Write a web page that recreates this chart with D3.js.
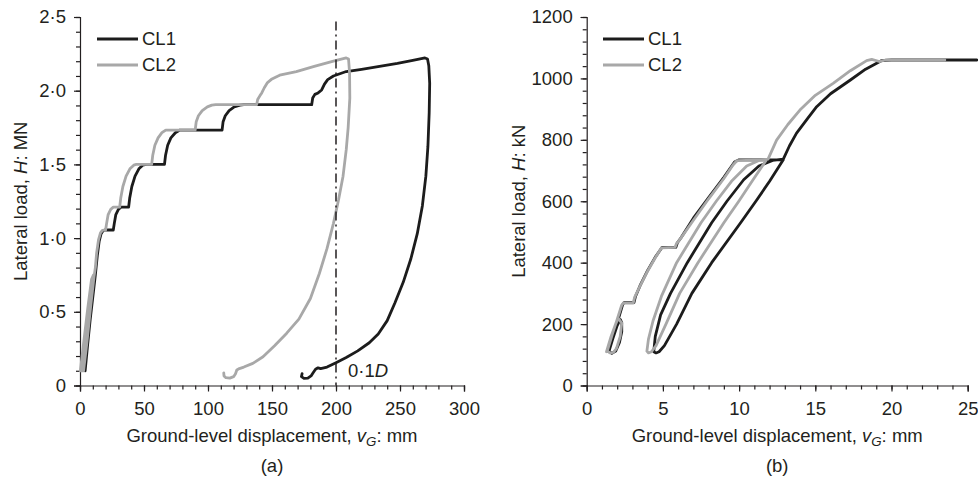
<!DOCTYPE html>
<html><head><meta charset="utf-8">
<script src="https://cdn.jsdelivr.net/npm/d3@7"></script>
<style>
body{margin:0;background:#fff;}
svg text{font-family:"Liberation Sans",Arial,Helvetica,sans-serif;fill:#231f20;}
</style></head><body>
<svg id="chart" width="978" height="480"></svg>
<script>
// ---------- data ----------
const seriesNames = ["CL1", "CL2"];
const seriesColors = ["#1c1c1c", "#a8a8a8"];

// panel (a): ground-level displacement (mm) vs lateral load (MN)
const cl1A = [
[4,0.10],[6,0.28],[8,0.45],[10,0.6],[12,0.75],[13.5,0.88],[15,0.98],[16.5,1.03],[18,1.05],[19.5,1.055],[26,1.055],[26.8,1.1],[28,1.16],[30,1.195],[32,1.21],[38,1.21],[38.8,1.27],[40.5,1.35],[43,1.42],[46,1.47],[49,1.495],[52,1.5],[66,1.5],[66.8,1.56],[68.5,1.63],[71,1.68],[74.5,1.715],[78,1.733],[111,1.733],[111.8,1.79],[113.5,1.83],[116.5,1.865],[120.5,1.89],[125,1.902],[128,1.905],[181,1.905],[181.8,1.95],[183.5,1.975],[186,1.985],[188.8,2.005],[191,2.045],[193.5,2.075],[198,2.1],[208,2.13],[220,2.145],[234,2.165],[248,2.185],[260,2.205],[269.5,2.222],[271.5,2.215],[272.5,2.17],[273.2,2.05],[272.8,1.85],[271.8,1.62],[270.2,1.42],[267.5,1.22],[263.5,1.03],[258.5,0.86],[252.5,0.70],[246,0.56],[240,0.44],[233,0.35],[226,0.29],[217,0.235],[208,0.19],[200,0.155],[193,0.125],[188,0.115],[186,0.12],[184,0.11],[182,0.085],[180.5,0.065],[178,0.05],[175,0.048],[173,0.06],[173.5,0.08]
];
const cl2A = [
[0.3,0.10],[3,0.3],[6,0.52],[9,0.72],[10.5,0.75],[7,0.5],[4,0.26],[1.5,0.10],[2.8,0.10],[5.5,0.3],[8.5,0.55],[11,0.74],[12,0.8],[13,0.9],[14.5,0.99],[16,1.035],[17.5,1.052],[19,1.055],[20,1.055],[20.8,1.1],[22,1.16],[24,1.195],[26,1.21],[31,1.21],[31.8,1.27],[33.5,1.35],[36,1.42],[39,1.47],[42,1.495],[44,1.5],[56,1.5],[56.8,1.56],[58.5,1.63],[61,1.68],[64,1.715],[67,1.733],[90,1.733],[90.8,1.79],[92.5,1.83],[95.5,1.865],[99.5,1.89],[103,1.902],[106,1.905],[138,1.905],[138.8,1.94],[140.5,1.965],[142,1.985],[144,2.02],[146.5,2.055],[150,2.08],[156,2.105],[169,2.13],[183,2.165],[198,2.2],[208,2.222],[209.8,2.215],[210.6,2.12],[210.8,1.95],[209.5,1.75],[208,1.6],[205.5,1.42],[202,1.26],[198,1.1],[193,0.93],[187,0.76],[180,0.59],[171,0.45],[161.5,0.355],[152,0.27],[143,0.195],[135,0.15],[128,0.125],[124.5,0.115],[122.5,0.105],[121.5,0.08],[120,0.06],[117,0.05],[114,0.053],[112.5,0.065],[112.3,0.085]
];

// panel (b): ground-level displacement (mm) vs lateral load (kN)
const cl1B = [
[1.45,110],[1.7,150],[2.0,195],[2.2,215],[2.3,205],[2.3,175],[2.15,140],[1.9,112],[1.65,105],[1.45,112],[1.8,170],[2.1,220],[2.35,262],[2.45,270],[3.1,270],[3.2,290],[3.5,325],[4.0,375],[4.5,418],[4.95,450],[5.85,450],[5.95,465],[6.2,482],[7,545],[8,612],[9,678],[9.7,728],[10,735],[12.9,735],
[12.0,665],[11.1,600],[10.1,530],[8.2,400],[6.9,300],[5.9,200],[5.1,130],[4.75,110],[4.55,106],[4.4,110],
[4.5,160],[4.85,230],[5.5,300],[6.6,400],[8.2,530],[9.2,600],[10.3,670],[11.3,715],[12.2,733],[12.9,737],
[13.3,780],[13.77,822],[14.5,870],[15.09,908],[16,950],[17.28,994],[18.3,1030],[19.36,1058],[20,1060],[25.6,1060]
];
const cl2B = [
[1.3,110],[1.6,160],[1.9,200],[2.07,219],[2.3,203],[2.2,160],[1.95,120],[1.75,108],[1.55,106],[1.35,112],[1.7,170],[2.0,215],[2.3,262],[2.4,268],[3.05,268],[3.15,288],[3.5,324],[4.0,373],[4.5,416],[4.9,448],[5.8,450],[5.9,463],[6.12,476],[7,538],[8,608],[9,674],[9.6,718],[9.85,732],[11.8,735],
[10.85,665],[9.98,600],[9.0,530],[7.3,400],[6.1,300],[5.2,200],[4.55,130],[4.25,110],[4.05,106],[3.95,112],
[4.05,150],[4.35,210],[4.9,290],[5.9,400],[7.5,530],[8.5,600],[9.5,665],[10.5,715],[11.3,733],[11.9,737],
[12.46,799],[13.2,850],[13.99,897],[15,945],[16.17,984],[17.3,1025],[18.37,1058],[18.7,1062],[19.2,1055],[19.6,1060],[23.5,1060]
];

// axes ticks and labels
const xTicksA = [0,50,100,150,200,250,300];
const xLabelsA = ["0","50","100","150","200","250","300"];
const yTicksA = [0,0.5,1.0,1.5,2.0,2.5];
const yLabelsA = ["0","0·5","1·0","1·5","2·0","2·5"];
const xTicksB = [0,5,10,15,20,25];
const xLabelsB = ["0","5","10","15","20","25"];
const yTicksB = [0,200,400,600,800,1000,1200];
const yLabelsB = ["0","200","400","600","800","1000","1200"];
const refLineX = [200];   // 0·1D
const refLineTop = 2.47;

// ---------- drawing ----------
const svg = d3.select("#chart");
const FS = 18.5;
const yBottom = 385.5, yTop = 17;

function italicSub(sel){
  sel.append("tspan").text("Ground-level displacement, ");
  sel.append("tspan").attr("font-style","italic").text("v");
  sel.append("tspan").attr("font-style","italic").attr("font-size",FS*0.72).attr("dy",4).text("G");
  sel.append("tspan").attr("dy",-4).text(": mm");
}

function panel(opt){
  const x = d3.scaleLinear().domain(opt.xDomain).range([opt.x0, opt.x1]);
  const y = d3.scaleLinear().domain(opt.yDomain).range([yBottom, yTop]);
  const g = svg.append("g");

  // minor ticks
  g.append("g").attr("transform",`translate(0,${yBottom})`)
    .call(d3.axisBottom(x).tickValues(opt.xMinor).tickSize(4).tickFormat(""))
    .call(a=>a.select(".domain").remove());
  g.append("g").attr("transform",`translate(${opt.x0},0)`)
    .call(d3.axisLeft(y).tickValues(opt.yMinor).tickSize(4).tickFormat(""))
    .call(a=>a.select(".domain").remove());

  const xa = g.append("g").attr("transform",`translate(0,${yBottom})`)
    .call(d3.axisBottom(x).tickValues(opt.xTicks).tickSize(6).tickPadding(10)
      .tickFormat((d,i)=>opt.xLabels[i]));
  const ya = g.append("g").attr("transform",`translate(${opt.x0},0)`)
    .call(d3.axisLeft(y).tickValues(opt.yTicks).tickSize(6).tickPadding(8)
      .tickFormat((d,i)=>opt.yLabels[i]));
  [xa,ya].forEach(a=>{
    a.attr("font-size",FS).attr("font-family",null);
    a.selectAll("path,line").attr("stroke","#231f20").attr("stroke-width",1.2);
  });
  g.selectAll("line").attr("stroke","#231f20").attr("stroke-width",1.2);

  // data lines (CL1 first, CL2 on top)
  const line = d3.line().x(d=>x(d[0])).y(d=>y(d[1]));
  opt.series.forEach((s,i)=>{
    g.append("path").datum(s).attr("d",line).attr("fill","none")
      .attr("stroke",seriesColors[i]).attr("stroke-width",2.8)
      .attr("stroke-linejoin","round").attr("stroke-linecap","round");
  });

  // legend
  seriesNames.forEach((n,i)=>{
    const ly = 39 + i*26;
    g.append("line").attr("x1",opt.legX).attr("x2",opt.legX+41).attr("y1",ly).attr("y2",ly)
      .attr("stroke",seriesColors[i]).attr("stroke-width",3);
    g.append("text").attr("x",opt.legX+45).attr("y",ly).attr("dy","0.35em")
      .attr("font-size",FS).text(n);
  });

  // axis titles
  const cx = (opt.x0+opt.x1)/2;
  g.append("text").attr("x",cx).attr("y",442).attr("text-anchor","middle")
    .attr("font-size",FS).call(italicSub);
  g.append("text").attr("x",cx).attr("y",472).attr("text-anchor","middle")
    .attr("font-size",FS).text(opt.tag);
  const yt = g.append("text").attr("transform",`translate(${opt.yTitleX},${(yBottom+yTop)/2}) rotate(-90)`)
    .attr("text-anchor","middle").attr("font-size",FS);
  yt.append("tspan").text("Lateral load, ");
  yt.append("tspan").attr("font-style","italic").text("H");
  yt.append("tspan").text(": "+opt.unit);
  return {g,x,y};
}

const A = panel({
  x0:80, x1:464, xDomain:[0,300], yDomain:[0,2.5],
  xTicks:xTicksA, xLabels:xLabelsA, yTicks:yTicksA, yLabels:yLabelsA,
  xMinor:d3.range(0,301,10), yMinor:d3.range(0,26).map(i=>i/10),
  series:[cl1A,cl2A], legX:97, tag:"(a)", unit:"MN", yTitleX:27
});
const B = panel({
  x0:586.7, x1:967.7, xDomain:[0,25], yDomain:[0,1200],
  xTicks:xTicksB, xLabels:xLabelsB, yTicks:yTicksB, yLabels:yLabelsB,
  xMinor:d3.range(0,26,1), yMinor:d3.range(0,1201,40),
  series:[cl1B,cl2B], legX:603, tag:"(b)", unit:"kN", yTitleX:525
});

// reference line 0·1D in panel (a)
refLineX.forEach(v=>{
  A.g.append("line").attr("x1",A.x(v)).attr("x2",A.x(v))
    .attr("y1",A.y(refLineTop)).attr("y2",yBottom)
    .attr("stroke","#231f20").attr("stroke-width",1.5).attr("stroke-dasharray","9,4,2,4");
  const t = A.g.append("text").attr("x",A.x(v)+12).attr("y",377).attr("font-size",FS);
  t.append("tspan").text("0·1");
  t.append("tspan").attr("font-style","italic").text("D");
});
</script>
</body></html>
